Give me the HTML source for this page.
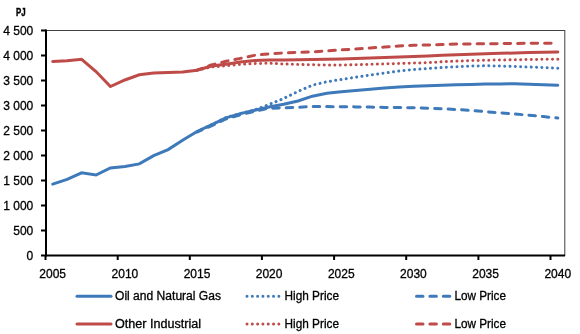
<!DOCTYPE html>
<html><head><meta charset="utf-8"><style>
html,body{margin:0;padding:0;background:#fff;width:580px;height:334px;overflow:hidden}
svg{display:block;will-change:transform}
text{fill:#000;stroke:#000;stroke-width:0.3px}
</style></head><body>
<svg width="580" height="334" viewBox="0 0 580 334">
<rect width="580" height="334" fill="#fff"/>
<rect x="46" y="30.5" width="518.8" height="225" fill="none" stroke="#404040" stroke-width="1"/>
<line x1="46" y1="29.5" x2="46" y2="256.5" stroke="#000" stroke-width="2"/>
<line x1="45" y1="255.5" x2="565" y2="255.5" stroke="#000" stroke-width="2"/>
<line x1="41" y1="255.5" x2="46" y2="255.5" stroke="#000" stroke-width="2"/>
<line x1="41" y1="230.5" x2="46" y2="230.5" stroke="#000" stroke-width="2"/>
<line x1="41" y1="205.5" x2="46" y2="205.5" stroke="#000" stroke-width="2"/>
<line x1="41" y1="180.5" x2="46" y2="180.5" stroke="#000" stroke-width="2"/>
<line x1="41" y1="155.5" x2="46" y2="155.5" stroke="#000" stroke-width="2"/>
<line x1="41" y1="130.5" x2="46" y2="130.5" stroke="#000" stroke-width="2"/>
<line x1="41" y1="105.5" x2="46" y2="105.5" stroke="#000" stroke-width="2"/>
<line x1="41" y1="80.5" x2="46" y2="80.5" stroke="#000" stroke-width="2"/>
<line x1="41" y1="55.5" x2="46" y2="55.5" stroke="#000" stroke-width="2"/>
<line x1="41" y1="30.5" x2="46" y2="30.5" stroke="#000" stroke-width="2"/>
<line x1="45.5" y1="255" x2="45.5" y2="260" stroke="#000" stroke-width="2"/>
<line x1="117.7" y1="255" x2="117.7" y2="260" stroke="#000" stroke-width="2"/>
<line x1="189.8" y1="255" x2="189.8" y2="260" stroke="#000" stroke-width="2"/>
<line x1="261.9" y1="255" x2="261.9" y2="260" stroke="#000" stroke-width="2"/>
<line x1="334.1" y1="255" x2="334.1" y2="260" stroke="#000" stroke-width="2"/>
<line x1="406.2" y1="255" x2="406.2" y2="260" stroke="#000" stroke-width="2"/>
<line x1="478.4" y1="255" x2="478.4" y2="260" stroke="#000" stroke-width="2"/>
<line x1="550.5" y1="255" x2="550.5" y2="260" stroke="#000" stroke-width="2"/>
<polyline points="557.8,118.0 543.3,116.6 528.9,115.2 514.5,114.0 500.0,112.8 485.6,111.7 471.2,110.5 456.7,109.5 442.3,108.8 427.9,108.2 413.4,107.8 399.0,107.6 384.6,107.4 370.2,107.1 355.7,106.9 341.3,106.7 326.9,106.6 312.4,106.6 298.0,107.2 283.6,108.0 269.1,108.2 254.7,111.2 240.3,114.8 225.9,119.0 211.4,125.9 197.0,132.0" fill="none" stroke="#3e79ba" stroke-width="3" stroke-linejoin="round" stroke-linecap="round" stroke-dasharray="6.5 7.0" stroke-dashoffset="4.5"/>
<polyline points="557.8,68.2 543.3,67.6 528.9,67.0 514.5,66.5 500.0,66.0 485.6,65.8 471.2,66.1 456.7,66.8 442.3,67.5 427.9,68.5 413.4,69.5 399.0,71.0 384.6,73.0 370.2,75.0 355.7,77.2 341.3,79.5 326.9,81.7 312.4,85.2 298.0,91.4 283.6,98.5 269.1,104.5 254.7,110.0 240.3,113.5 225.9,117.7 211.4,124.8 197.0,131.5" fill="none" stroke="#3e79ba" stroke-width="3" stroke-linejoin="round" stroke-linecap="round" stroke-dasharray="0.01 5.3" stroke-dashoffset="0"/>
<polyline points="52.7,184.1 67.1,179.4 81.6,172.8 96.0,175.0 110.4,167.9 124.9,166.5 139.3,163.9 153.7,155.6 168.1,149.6 182.6,140.2 197.0,131.5 211.4,124.8 225.9,117.8 240.3,113.6 254.7,110.2 269.1,107.0 283.6,104.2 298.0,101.0 312.4,96.2 326.9,93.2 341.3,91.8 355.7,90.5 370.2,89.2 384.6,88.0 399.0,87.1 413.4,86.2 427.9,85.8 442.3,85.2 456.7,84.8 471.2,84.4 485.6,84.1 500.0,83.9 514.5,83.8 528.9,84.2 543.3,84.8 557.8,85.3" fill="none" stroke="#3e79ba" stroke-width="3" stroke-linejoin="miter" stroke-linecap="round"/>
<polyline points="557.8,43.1 543.3,43.2 528.9,43.3 514.5,43.5 500.0,43.6 485.6,43.8 471.2,43.9 456.7,44.1 442.3,44.5 427.9,45.0 413.4,45.3 399.0,46.0 384.6,47.0 370.2,48.0 355.7,49.0 341.3,49.9 326.9,51.0 312.4,51.8 298.0,52.4 283.6,53.0 269.1,53.8 254.7,55.3 240.3,58.4 225.9,61.3 211.4,65.0 197.0,70.2" fill="none" stroke="#be4b48" stroke-width="3" stroke-linejoin="round" stroke-linecap="round" stroke-dasharray="6.5 7.0" stroke-dashoffset="6.8"/>
<polyline points="557.8,59.2 543.3,59.3 528.9,59.5 514.5,59.8 500.0,60.0 485.6,60.2 471.2,60.6 456.7,61.1 442.3,61.8 427.9,62.6 413.4,63.1 399.0,63.5 384.6,63.9 370.2,64.3 355.7,64.8 341.3,65.0 326.9,65.0 312.4,64.8 298.0,64.5 283.6,64.0 269.1,63.2 254.7,63.6 240.3,64.3 225.9,65.7 211.4,67.0 197.0,70.2" fill="none" stroke="#be4b48" stroke-width="3" stroke-linejoin="round" stroke-linecap="round" stroke-dasharray="0.01 5.3" stroke-dashoffset="0"/>
<polyline points="52.7,61.4 67.1,60.7 81.6,59.3 96.0,71.5 110.4,86.5 124.9,80.0 139.3,74.8 153.7,73.0 168.1,72.5 182.6,72.1 197.0,70.2 211.4,66.0 225.9,64.3 240.3,62.0 254.7,60.5 269.1,60.0 283.6,59.9 298.0,59.8 312.4,59.5 326.9,59.2 341.3,59.0 355.7,58.5 370.2,58.0 384.6,57.5 399.0,57.0 413.4,56.5 427.9,55.9 442.3,55.3 456.7,54.8 471.2,54.2 485.6,53.7 500.0,53.3 514.5,53.0 528.9,52.6 543.3,52.3 557.8,52.0" fill="none" stroke="#be4b48" stroke-width="3" stroke-linejoin="miter" stroke-linecap="round"/>
<text x="16" y="15.9" font-family="Liberation Sans, sans-serif" font-size="11" font-weight="bold" textLength="9.6" style="stroke-width:0.45px" lengthAdjust="spacingAndGlyphs">PJ</text>
<text x="33.3" y="260.0" font-family="Liberation Sans, sans-serif" font-size="12" text-anchor="end">0</text>
<text x="33.3" y="235.0" font-family="Liberation Sans, sans-serif" font-size="12" text-anchor="end">500</text>
<text x="33.3" y="210.0" font-family="Liberation Sans, sans-serif" font-size="12" text-anchor="end">1 000</text>
<text x="33.3" y="185.0" font-family="Liberation Sans, sans-serif" font-size="12" text-anchor="end">1 500</text>
<text x="33.3" y="160.0" font-family="Liberation Sans, sans-serif" font-size="12" text-anchor="end">2 000</text>
<text x="33.3" y="135.0" font-family="Liberation Sans, sans-serif" font-size="12" text-anchor="end">2 500</text>
<text x="33.3" y="110.0" font-family="Liberation Sans, sans-serif" font-size="12" text-anchor="end">3 000</text>
<text x="33.3" y="85.0" font-family="Liberation Sans, sans-serif" font-size="12" text-anchor="end">3 500</text>
<text x="33.3" y="60.0" font-family="Liberation Sans, sans-serif" font-size="12" text-anchor="end">4 000</text>
<text x="33.3" y="35.0" font-family="Liberation Sans, sans-serif" font-size="12" text-anchor="end">4 500</text>
<text x="52.7" y="277.8" font-family="Liberation Sans, sans-serif" font-size="12" text-anchor="middle">2005</text>
<text x="124.9" y="277.8" font-family="Liberation Sans, sans-serif" font-size="12" text-anchor="middle">2010</text>
<text x="197.0" y="277.8" font-family="Liberation Sans, sans-serif" font-size="12" text-anchor="middle">2015</text>
<text x="269.1" y="277.8" font-family="Liberation Sans, sans-serif" font-size="12" text-anchor="middle">2020</text>
<text x="341.3" y="277.8" font-family="Liberation Sans, sans-serif" font-size="12" text-anchor="middle">2025</text>
<text x="413.4" y="277.8" font-family="Liberation Sans, sans-serif" font-size="12" text-anchor="middle">2030</text>
<text x="485.6" y="277.8" font-family="Liberation Sans, sans-serif" font-size="12" text-anchor="middle">2035</text>
<text x="557.8" y="277.8" font-family="Liberation Sans, sans-serif" font-size="12" text-anchor="middle">2040</text>
<line x1="77" y1="296.3" x2="111" y2="296.3" stroke="#3e79ba" stroke-width="3" stroke-linecap="round"/>
<line x1="77" y1="324.1" x2="111" y2="324.1" stroke="#be4b48" stroke-width="3" stroke-linecap="round"/>
<line x1="247" y1="296.3" x2="279" y2="296.3" stroke="#3e79ba" stroke-width="3" stroke-linecap="round" stroke-dasharray="0.01 5.3"/>
<line x1="247" y1="324.1" x2="279" y2="324.1" stroke="#be4b48" stroke-width="3" stroke-linecap="round" stroke-dasharray="0.01 5.3"/>
<line x1="416.5" y1="296.3" x2="450" y2="296.3" stroke="#3e79ba" stroke-width="3" stroke-linecap="round" stroke-dasharray="6.5 6.9"/>
<line x1="416.5" y1="324.1" x2="450" y2="324.1" stroke="#be4b48" stroke-width="3" stroke-linecap="round" stroke-dasharray="6.5 6.9"/>
<text x="115" y="299.6" font-family="Liberation Sans, sans-serif" font-size="12" textLength="106" lengthAdjust="spacingAndGlyphs">Oil and Natural Gas</text>
<text x="115" y="327.6" font-family="Liberation Sans, sans-serif" font-size="12" textLength="86" lengthAdjust="spacingAndGlyphs">Other Industrial</text>
<text x="284.5" y="299.6" font-family="Liberation Sans, sans-serif" font-size="12" textLength="54.5" lengthAdjust="spacingAndGlyphs">High Price</text>
<text x="284.5" y="327.6" font-family="Liberation Sans, sans-serif" font-size="12" textLength="54.5" lengthAdjust="spacingAndGlyphs">High Price</text>
<text x="454.5" y="299.6" font-family="Liberation Sans, sans-serif" font-size="12" textLength="51.5" lengthAdjust="spacingAndGlyphs">Low Price</text>
<text x="454.5" y="327.6" font-family="Liberation Sans, sans-serif" font-size="12" textLength="51.5" lengthAdjust="spacingAndGlyphs">Low Price</text>
</svg>
</body></html>
